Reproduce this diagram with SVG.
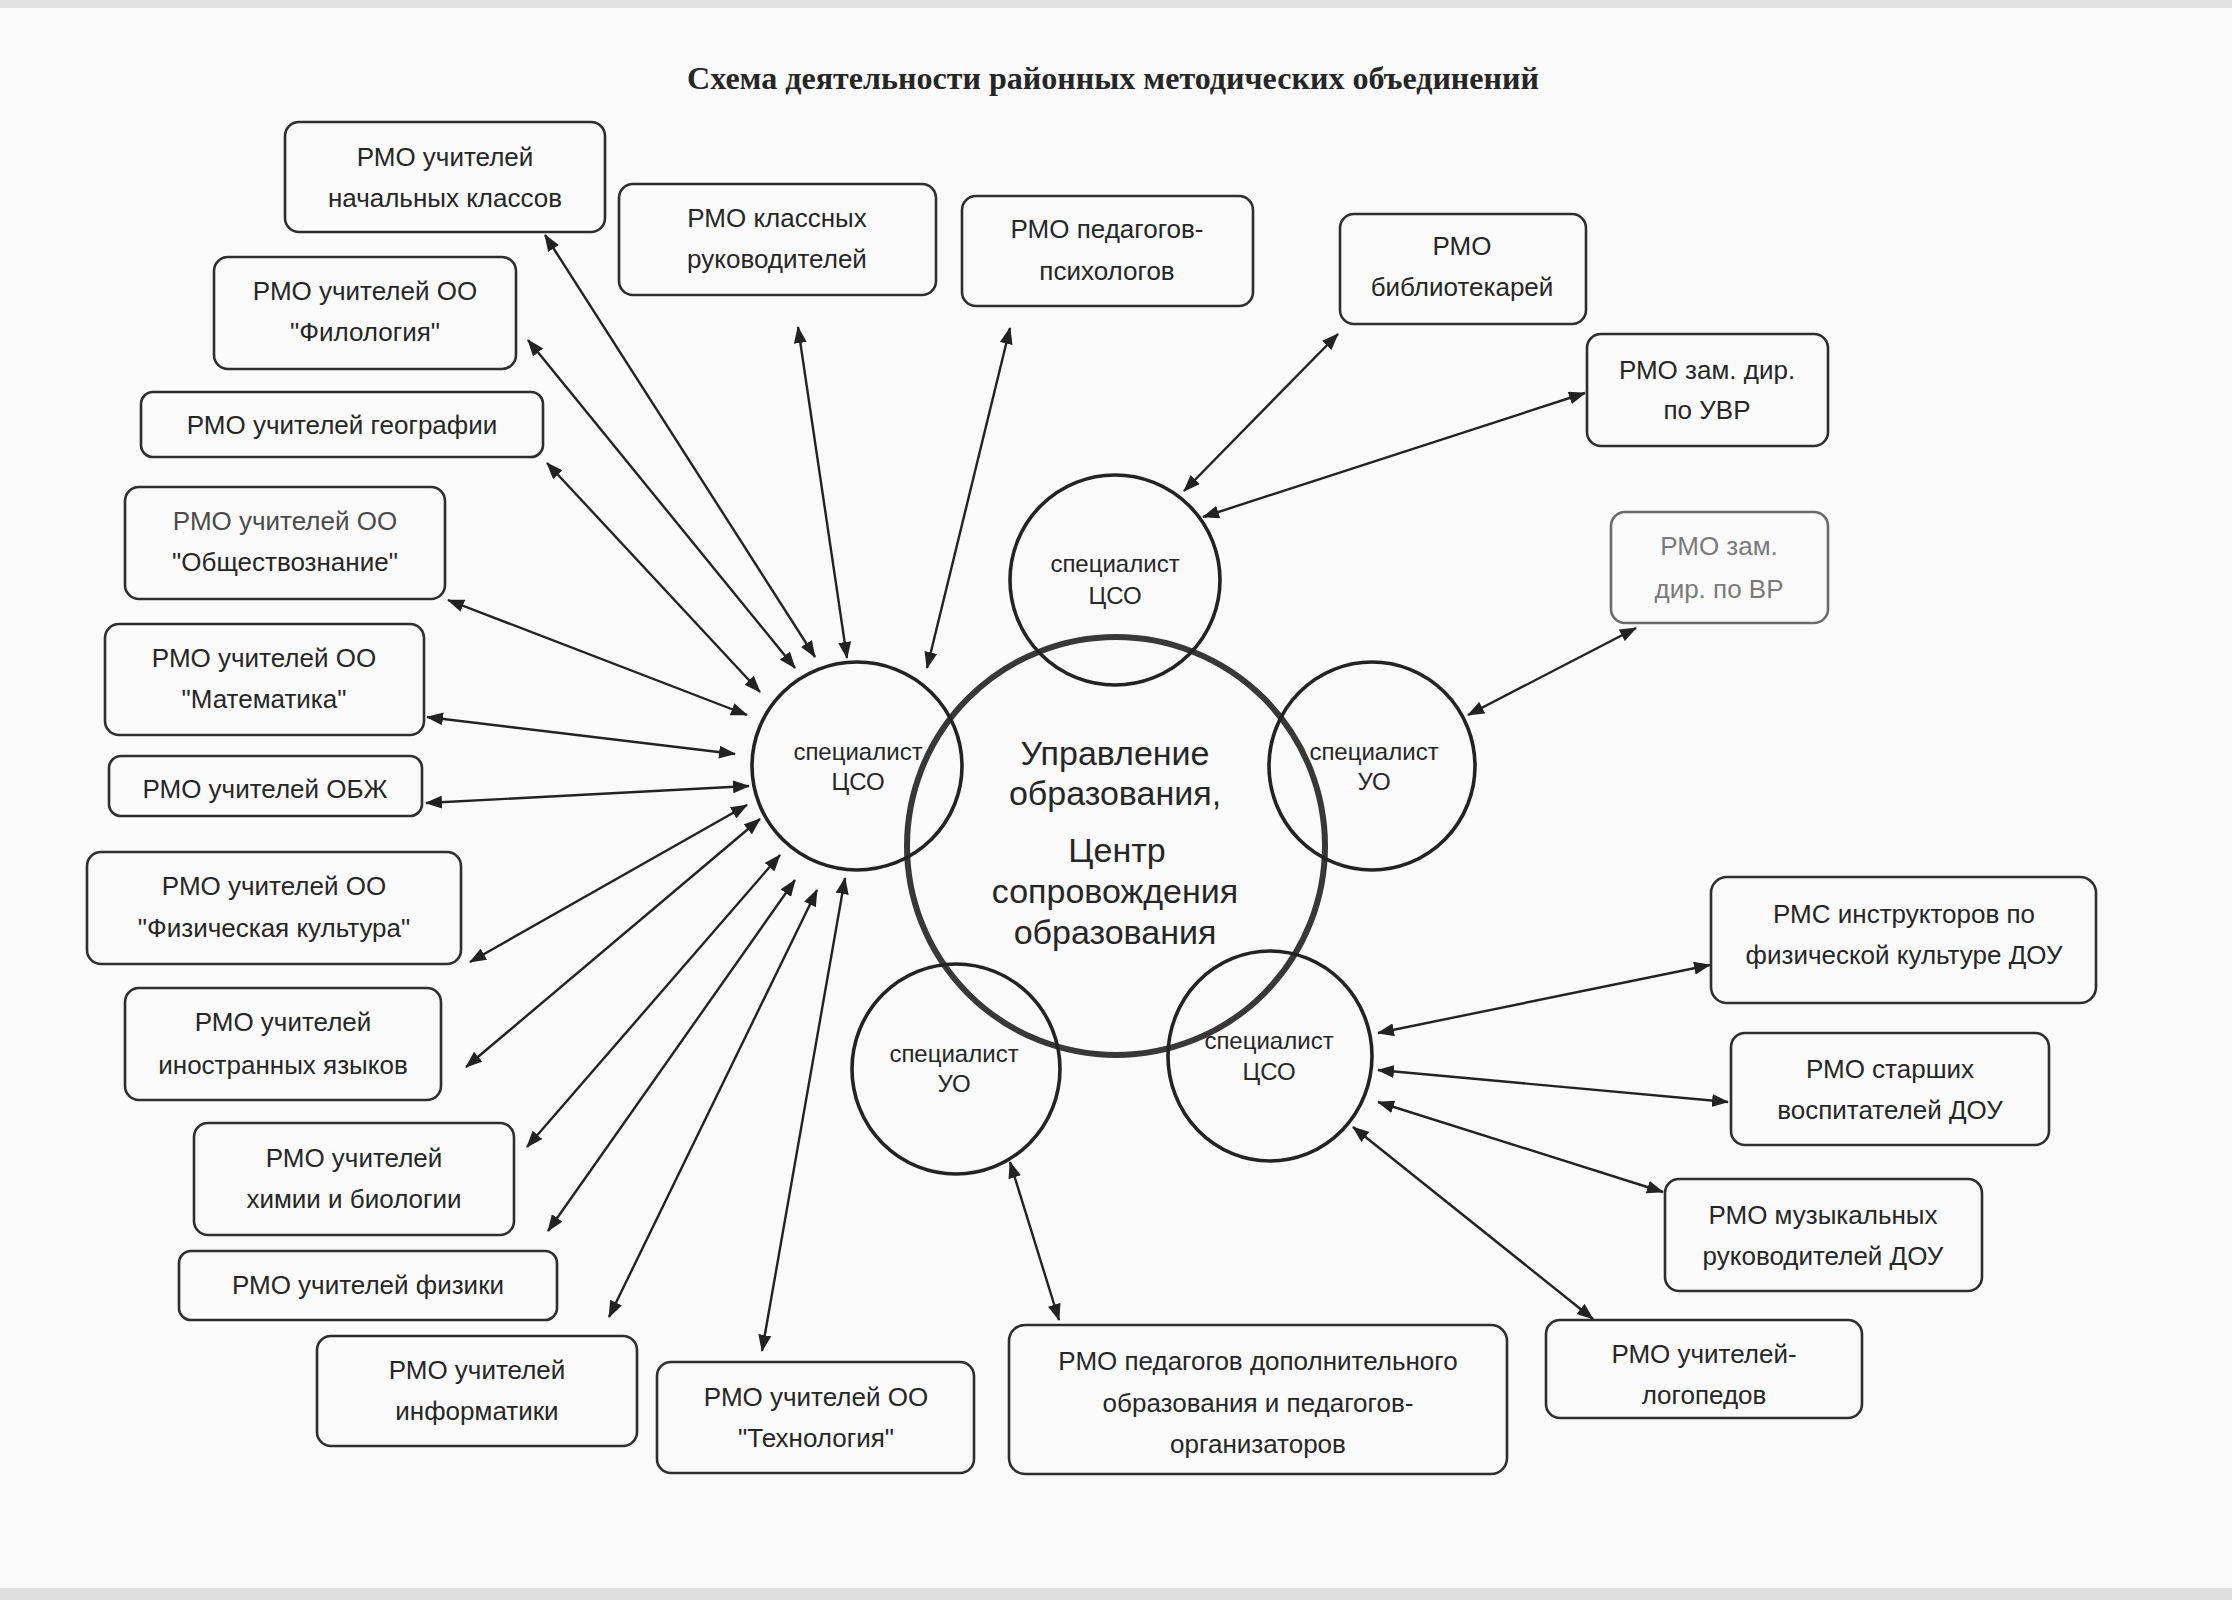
<svg xmlns="http://www.w3.org/2000/svg" width="2232" height="1600" viewBox="0 0 2232 1600">
<defs>
<marker id="ah" viewBox="0 0 17 13" refX="16" refY="6.5" markerWidth="17" markerHeight="13" markerUnits="userSpaceOnUse" orient="auto-start-reverse">
<path d="M0,0 L17,6.5 L0,13 Z" fill="#222"/>
</marker>
<style>
.box{fill:none;stroke:#2e2e2e;stroke-width:2.6}
.t{font-family:"Liberation Sans",Arial,sans-serif;font-size:26px;fill:#262626;text-anchor:middle}
.ct{font-family:"Liberation Sans",Arial,sans-serif;font-size:24px;fill:#262626;text-anchor:middle}
.big{font-family:"Liberation Sans",Arial,sans-serif;font-size:34px;fill:#262626;text-anchor:middle}
.sc{fill:none;stroke:#232323;stroke-width:3.6}
.conn line{stroke:#222;stroke-width:2.4;marker-start:url(#ah);marker-end:url(#ah)}
.faded .box{stroke:#6a6a6a}
.faded .t{fill:#7a7a7a}
</style>
</defs>
<rect x="0" y="0" width="2232" height="1600" fill="#fafafa"/>
<rect x="0" y="0" width="2232" height="8" fill="#e2e2e2"/>
<rect x="0" y="1588" width="2232" height="12" fill="#dedede"/>

<text x="1113" y="89" font-family="'Liberation Serif','Times New Roman',serif" font-weight="bold" font-size="31" fill="#262626" text-anchor="middle" textLength="852" lengthAdjust="spacingAndGlyphs">Схема деятельности районных методических объединений</text>

<g id="center">
<circle cx="1116" cy="846" r="209" fill="none" stroke="#383838" stroke-width="6"/>
<text class="big" x="1115" y="765">Управление</text>
<text class="big" x="1115" y="805">образования,</text>
<text class="big" x="1117" y="862">Центр</text>
<text class="big" x="1115" y="903">сопровождения</text>
<text class="big" x="1115" y="944">образования</text>
</g>

<g id="spec-cso-left">
<ellipse class="sc" cx="857" cy="766" rx="105" ry="104"/>
<text class="ct" x="858" y="760">специалист</text>
<text class="ct" x="858" y="790">ЦСО</text>
</g>
<g id="spec-cso-top">
<ellipse class="sc" cx="1115" cy="580" rx="105" ry="105"/>
<text class="ct" x="1115" y="572">специалист</text>
<text class="ct" x="1115" y="604">ЦСО</text>
</g>
<g id="spec-uo-right">
<ellipse class="sc" cx="1372" cy="766" rx="103" ry="104"/>
<text class="ct" x="1374" y="760">специалист</text>
<text class="ct" x="1374" y="790">УО</text>
</g>
<g id="spec-uo-bottom">
<ellipse class="sc" cx="956" cy="1069" rx="104" ry="105"/>
<text class="ct" x="954" y="1062">специалист</text>
<text class="ct" x="954" y="1092">УО</text>
</g>
<g id="spec-cso-bottom">
<ellipse class="sc" cx="1270" cy="1056" rx="102" ry="105"/>
<text class="ct" x="1269" y="1049">специалист</text>
<text class="ct" x="1269" y="1080">ЦСО</text>
</g>

<g id="n-nach"><rect class="box" x="285" y="122" width="320" height="110" rx="14"/>
<text class="t" x="445" y="166">РМО учителей</text><text class="t" x="445" y="207">начальных классов</text></g>
<g id="n-klass"><rect class="box" x="619" y="184" width="317" height="111" rx="14"/>
<text class="t" x="777" y="227">РМО классных</text><text class="t" x="777" y="268">руководителей</text></g>
<g id="n-psych"><rect class="box" x="962" y="196" width="291" height="110" rx="14"/>
<text class="t" x="1107" y="238">РМО педагогов-</text><text class="t" x="1107" y="280">психологов</text></g>
<g id="n-bibl"><rect class="box" x="1340" y="214" width="246" height="110" rx="14"/>
<text class="t" x="1462" y="255">РМО</text><text class="t" x="1462" y="296">библиотекарей</text></g>
<g id="n-uvr"><rect class="box" x="1587" y="334" width="241" height="112" rx="14"/>
<text class="t" x="1707" y="379">РМО зам. дир.</text><text class="t" x="1707" y="419">по УВР</text></g>
<g id="n-vr" class="faded"><rect class="box" x="1611" y="512" width="217" height="111" rx="14"/>
<text class="t" x="1719" y="555">РМО зам.</text><text class="t" x="1719" y="598">дир. по ВР</text></g>
<g id="n-filol"><rect class="box" x="214" y="257" width="302" height="112" rx="14"/>
<text class="t" x="365" y="300">РМО учителей ОО</text><text class="t" x="365" y="341">"Филология"</text></g>
<g id="n-geo"><rect class="box" x="141" y="392" width="402" height="65" rx="12"/>
<text class="t" x="342" y="434">РМО учителей географии</text></g>
<g id="n-obsh"><rect class="box" x="125" y="487" width="320" height="112" rx="14"/>
<text class="t" x="285" y="530" style="fill:#4a4a4a">РМО учителей ОО</text><text class="t" x="285" y="571">"Обществознание"</text></g>
<g id="n-mat"><rect class="box" x="105" y="624" width="319" height="111" rx="14"/>
<text class="t" x="264" y="667">РМО учителей ОО</text><text class="t" x="264" y="708">"Математика"</text></g>
<g id="n-obzh"><rect class="box" x="109" y="756" width="313" height="60" rx="12"/>
<text class="t" x="265" y="798">РМО учителей ОБЖ</text></g>
<g id="n-fizk"><rect class="box" x="87" y="852" width="374" height="112" rx="14"/>
<text class="t" x="274" y="895">РМО учителей ОО</text><text class="t" x="274" y="937">"Физическая культура"</text></g>
<g id="n-inostr"><rect class="box" x="125" y="988" width="316" height="112" rx="14"/>
<text class="t" x="283" y="1031">РМО учителей</text><text class="t" x="283" y="1074">иностранных языков</text></g>
<g id="n-him"><rect class="box" x="194" y="1123" width="320" height="112" rx="14"/>
<text class="t" x="354" y="1167">РМО учителей</text><text class="t" x="354" y="1208">химии и биологии</text></g>
<g id="n-fiz"><rect class="box" x="179" y="1251" width="378" height="69" rx="12"/>
<text class="t" x="368" y="1294">РМО учителей физики</text></g>
<g id="n-inf"><rect class="box" x="317" y="1336" width="320" height="110" rx="14"/>
<text class="t" x="477" y="1379">РМО учителей</text><text class="t" x="477" y="1420">информатики</text></g>
<g id="n-tech"><rect class="box" x="657" y="1362" width="317" height="111" rx="14"/>
<text class="t" x="816" y="1406">РМО учителей ОО</text><text class="t" x="816" y="1447">"Технология"</text></g>
<g id="n-dop"><rect class="box" x="1009" y="1325" width="498" height="149" rx="16"/>
<text class="t" x="1258" y="1370">РМО педагогов дополнительного</text><text class="t" x="1258" y="1412">образования и педагогов-</text><text class="t" x="1258" y="1453">организаторов</text></g>
<g id="n-logo"><rect class="box" x="1546" y="1320" width="316" height="98" rx="14"/>
<text class="t" x="1704" y="1363">РМО учителей-</text><text class="t" x="1704" y="1404">логопедов</text></g>
<g id="n-muz"><rect class="box" x="1665" y="1179" width="317" height="112" rx="14"/>
<text class="t" x="1823" y="1224">РМО музыкальных</text><text class="t" x="1823" y="1265">руководителей ДОУ</text></g>
<g id="n-stv"><rect class="box" x="1731" y="1033" width="318" height="112" rx="14"/>
<text class="t" x="1890" y="1078">РМО старших</text><text class="t" x="1890" y="1119">воспитателей ДОУ</text></g>
<g id="n-instr"><rect class="box" x="1711" y="877" width="385" height="126" rx="16"/>
<text class="t" x="1904" y="923">РМС инструкторов по</text><text class="t" x="1904" y="964">физической культуре ДОУ</text></g>

<g id="connectors" class="conn">
<line x1="545" y1="235" x2="815" y2="657"/>
<line x1="528" y1="340" x2="795" y2="668"/>
<line x1="798" y1="327" x2="847" y2="658"/>
<line x1="1010" y1="328" x2="927" y2="668"/>
<line x1="547" y1="463" x2="760" y2="692"/>
<line x1="448" y1="600" x2="747" y2="715"/>
<line x1="427" y1="717" x2="735" y2="754"/>
<line x1="426" y1="803" x2="749" y2="786"/>
<line x1="470" y1="962" x2="747" y2="805"/>
<line x1="466" y1="1067" x2="760" y2="819"/>
<line x1="527" y1="1147" x2="780" y2="855"/>
<line x1="548" y1="1231" x2="795" y2="880"/>
<line x1="609" y1="1317" x2="817" y2="890"/>
<line x1="762" y1="1351" x2="845" y2="878"/>
<line x1="1338" y1="334" x2="1184" y2="491"/>
<line x1="1585" y1="393" x2="1203" y2="517"/>
<line x1="1636" y1="628" x2="1468" y2="715"/>
<line x1="1010" y1="1162" x2="1059" y2="1320"/>
<line x1="1378" y1="1033" x2="1710" y2="965"/>
<line x1="1378" y1="1070" x2="1728" y2="1102"/>
<line x1="1378" y1="1102" x2="1663" y2="1192"/>
<line x1="1353" y1="1127" x2="1593" y2="1319"/>
</g>
</svg>
